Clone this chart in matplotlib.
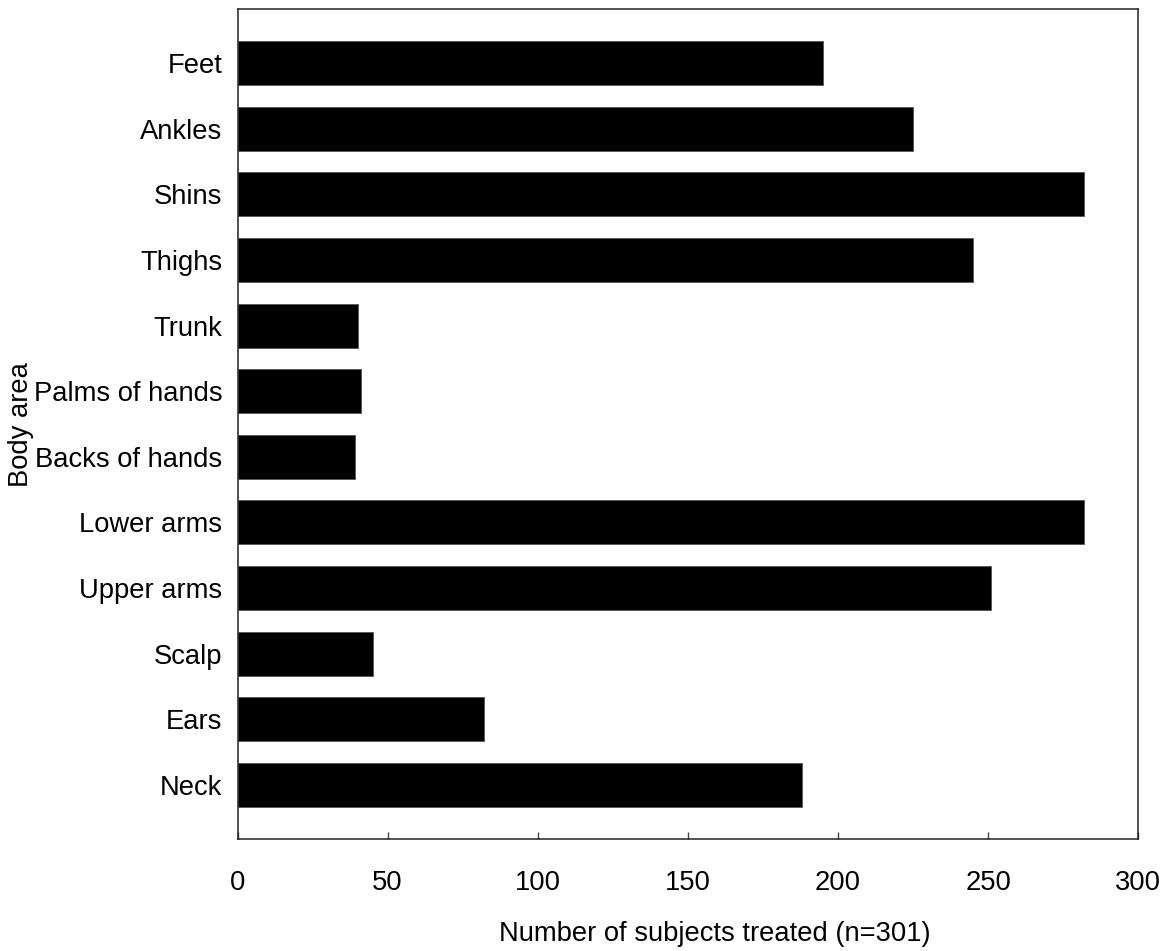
import numpy as np
import matplotlib.pyplot as plt

plt.rcParams['font.family'] = ['Liberation Sans', 'DejaVu Sans']

# Body areas, bottom to top
areas = ['Neck', 'Ears', 'Scalp', 'Upper arms', 'Lower arms', 'Backs of hands',
         'Palms of hands', 'Trunk', 'Thighs', 'Shins', 'Ankles', 'Feet']
counts = [188, 82, 45, 251, 282, 39, 41, 40, 245, 282, 225, 195]
xticks = [0, 50, 100, 150, 200, 250, 300]

fig = plt.figure(figsize=(11.73, 9.51), dpi=100)
ax = fig.add_axes([0.2025, 0.1178, 0.7679, 0.8727])

y = np.arange(len(areas))
ax.barh(y, counts, height=0.67, color='black', edgecolor='#555555', linewidth=0.6)

ax.set_xlim(0, 300)
ax.set_ylim(-0.82, 11.82)
ax.set_xticks(xticks)
ax.set_yticks(y)
ax.set_yticklabels(areas)

ax.tick_params(axis='x', direction='in', length=5, width=1, color='#444444',
               pad=22, labelsize=19.7)
ax.tick_params(axis='y', length=0, pad=11, labelsize=19.7)
for s in ax.spines.values():
    s.set_linewidth(1.1)
    s.set_color('#222222')

ax.set_xlabel('Number of subjects treated (n=301)', fontsize=19.7)
ax.xaxis.set_label_coords(0.53, -0.099)
fig.text(21 / 1173, 1 - 425 / 951, 'Body area', rotation=90, fontsize=19.7,
         ha='center', va='center')

fig.savefig('out.png', dpi=100)
